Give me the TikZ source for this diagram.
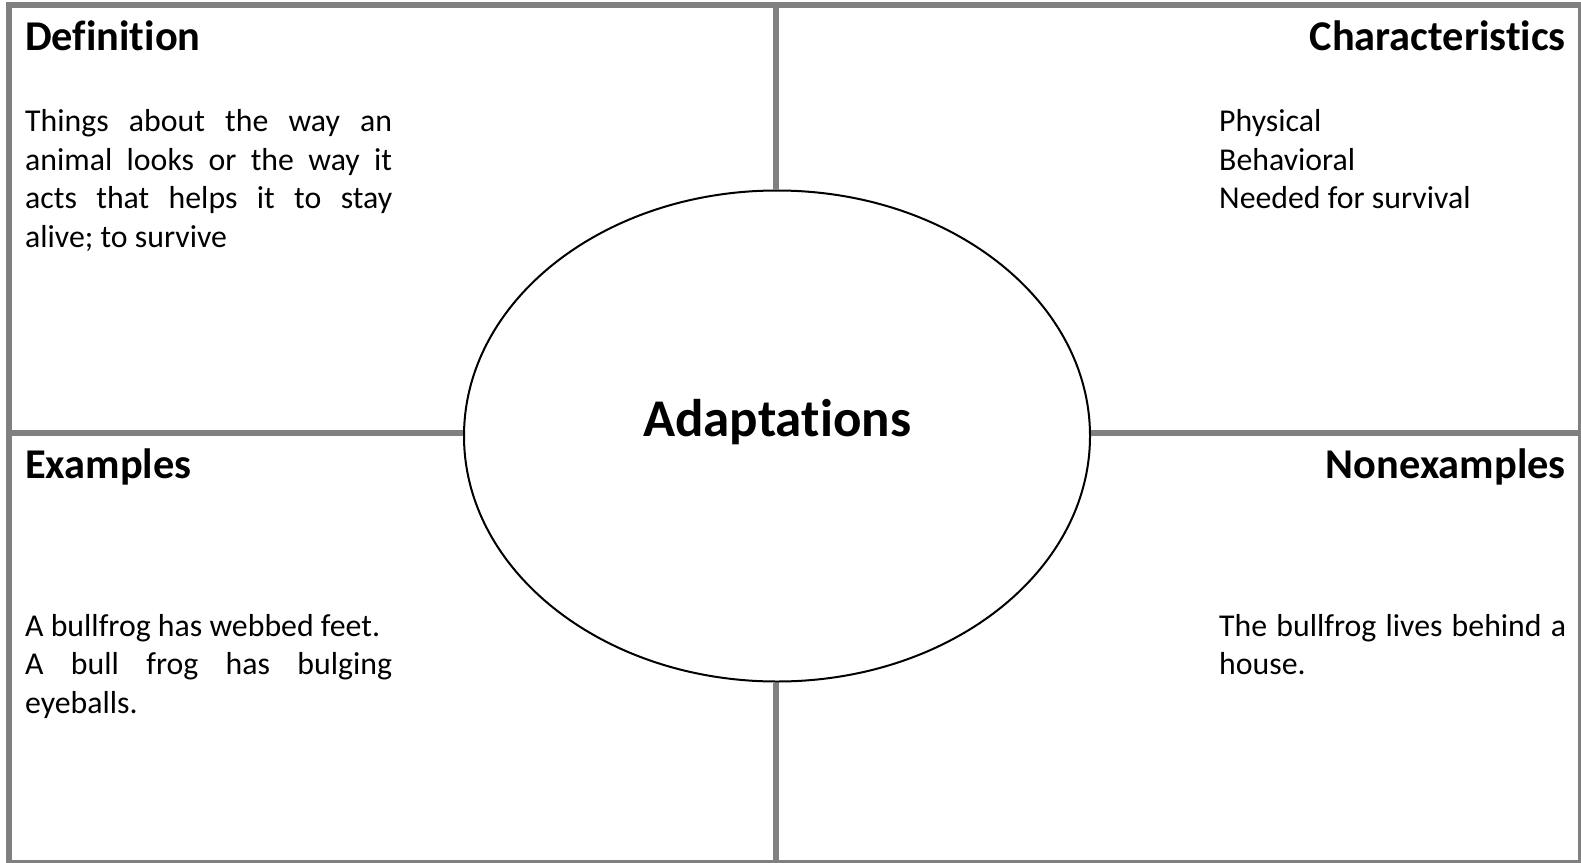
\documentclass[tikz,border=0pt]{standalone}
\usepackage{fontspec}
\setmainfont{Carlito}[RawFeature={-liga}]
\usetikzlibrary{shapes.geometric}
\definecolor{linegray}{RGB}{128,128,128}
\begin{document}
\begin{tikzpicture}[x=1pt,y=-1pt,
  grid/.style={draw=linegray, line width=6pt},
  titletxt/.style={inner sep=0pt, font=\fontsize{42.4}{51}\selectfont\bfseries},
  bodytxt/.style={inner sep=0pt, font=\fontsize{31.8}{38.7}\selectfont, anchor=base west},
]
\useasboundingbox (0,0) rectangle (1581,862);
\fill[white] (0,0) rectangle (1581,862);
% outer frame
\draw[grid] (9,5) rectangle (1581,863);
% centre ellipse
\node[draw=black, line width=2pt, ellipse, inner sep=0pt, minimum width=626pt, minimum height=491pt] (ell) at (777,436) {};
\node[inner sep=0pt, anchor=base, font=\fontsize{53}{64}\selectfont\bfseries] (adapt) at (ell.center) {Adaptations};
% dividing lines
\coordinate (top) at (776,5);
\coordinate (bot) at (776,863);
\coordinate (lft) at (9,433);
\coordinate (rgt) at (1581,433);
\draw[grid] (top) -- (top |- ell.north);
\draw[grid] (ell.south -| bot) -- (bot);
\draw[grid] (lft) -- (lft -| ell.west);
\draw[grid] (ell.east |- rgt) -- (rgt);
% titles
\node[titletxt, anchor=base west] (deft) at (25,50.5) {Definition};
\node[titletxt, anchor=base east] (chart) at (1566,50.5) {Characteristics};
\node[titletxt, anchor=base west] (exat) at (25,478) {Examples};
\node[titletxt, anchor=base east] (nont) at (1566,478) {Nonexamples};
% bodies
\node[bodytxt] (defb) at (25,131.5) {\parbox[t]{367pt}{%
\makebox[367pt][s]{Things about the way an}\\
\makebox[367pt][s]{animal looks or the way it}\\
\makebox[367pt][s]{acts that helps it to stay}\\
alive; to survive}};
\node[bodytxt] (charb) at (1219,131.5) {\parbox[t]{347pt}{%
Physical\\
Behavioral\\
Needed for survival}};
\node[bodytxt] (exab) at (25,636) {\parbox[t]{367pt}{%
A bullfrog has webbed feet.\\
\makebox[367pt][s]{A bull frog has bulging}\\
eyeballs.}};
\node[bodytxt] (nonb) at (1219,636) {\parbox[t]{347pt}{%
\makebox[347pt][s]{The bullfrog lives behind a}\\
house.}};
\end{tikzpicture}
\end{document}
